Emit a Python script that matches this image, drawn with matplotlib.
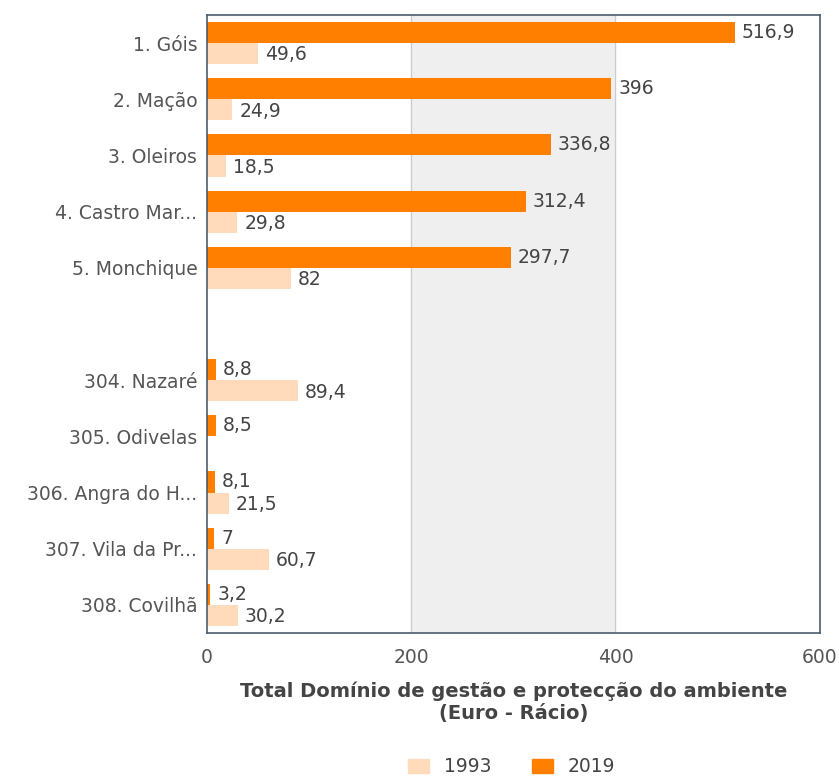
import matplotlib
matplotlib.use("Agg")
import matplotlib.pyplot as plt
from matplotlib.patches import Patch
import numpy as np

categories = ["1. Góis", "2. Mação", "3. Oleiros", "4. Castro Mar...", "5. Monchique", "",
              "304. Nazaré", "305. Odivelas", "306. Angra do H...", "307. Vila da Pr...", "308. Covilhã"]
v2019 = [516.9, 396, 336.8, 312.4, 297.7, None, 8.8, 8.5, 8.1, 7, 3.2]
v1993 = [49.6, 24.9, 18.5, 29.8, 82, None, 89.4, None, 21.5, 60.7, 30.2]
xticks = [0, 200, 400, 600]

c2019 = "#ff7f00"
c1993 = "#ffdabb"
txt = "#555555"
fs = 13.5

def fmt(v):
    s = ("%.1f" % v).rstrip("0").rstrip(".")
    return s.replace(".", ",")

fig = plt.figure(figsize=(8.39, 7.76), dpi=100)
ax = fig.add_axes([0.2467, 0.1843, 0.7303, 0.7964])
ax.set_xlim(0, 600)
n = len(categories)
ax.set_ylim(n - 0.5, -0.5)
ax.axvspan(200, 400, color="#efefef", zorder=0)
for x in [200, 400]:
    ax.axvline(x, color="#cccccc", lw=0.9, zorder=0.5)

h = 0.375
y = np.arange(n)
for i in range(n):
    if v2019[i] is not None:
        ax.barh(y[i] - h / 2, v2019[i], height=h, color=c2019, zorder=2)
        ax.annotate(fmt(v2019[i]), (v2019[i], y[i] - h / 2), xytext=(5, 0),
                    textcoords="offset points", va="center", ha="left",
                    fontsize=fs, color="#444444", zorder=3)
    if v1993[i] is not None:
        ax.barh(y[i] + h / 2, v1993[i], height=h, color=c1993, zorder=2)
        ax.annotate(fmt(v1993[i]), (v1993[i], y[i] + h / 2), xytext=(5, -1),
                    textcoords="offset points", va="center", ha="left",
                    fontsize=fs, color="#444444", zorder=3)

ax.set_yticks(y)
ax.set_yticklabels(categories, fontsize=fs, color=txt)
ax.set_xticks(xticks)
ax.set_xticklabels([str(t) for t in xticks], fontsize=fs, color=txt)
ax.tick_params(axis="y", length=0, pad=7)
ax.tick_params(axis="x", length=0, pad=11)
for s in ax.spines.values():
    s.set_color("#4d5d6d")
    s.set_linewidth(1.2)

ax.set_xlabel("Total Domínio de gestão e protecção do ambiente\n(Euro - Rácio)",
              fontsize=14, fontweight="bold", color="#444444", labelpad=10, linespacing=1.2)

handles = [Patch(color=c1993, label="1993"), Patch(color=c2019, label="2019")]
fig.legend(handles=handles, loc="lower center", bbox_to_anchor=(0.61, -0.022), ncol=2,
           frameon=False, fontsize=fs, handlelength=1.1, handleheight=0.8,
           columnspacing=2.2, labelcolor="#444444")

fig.savefig("out.png", dpi=100, facecolor="white")
